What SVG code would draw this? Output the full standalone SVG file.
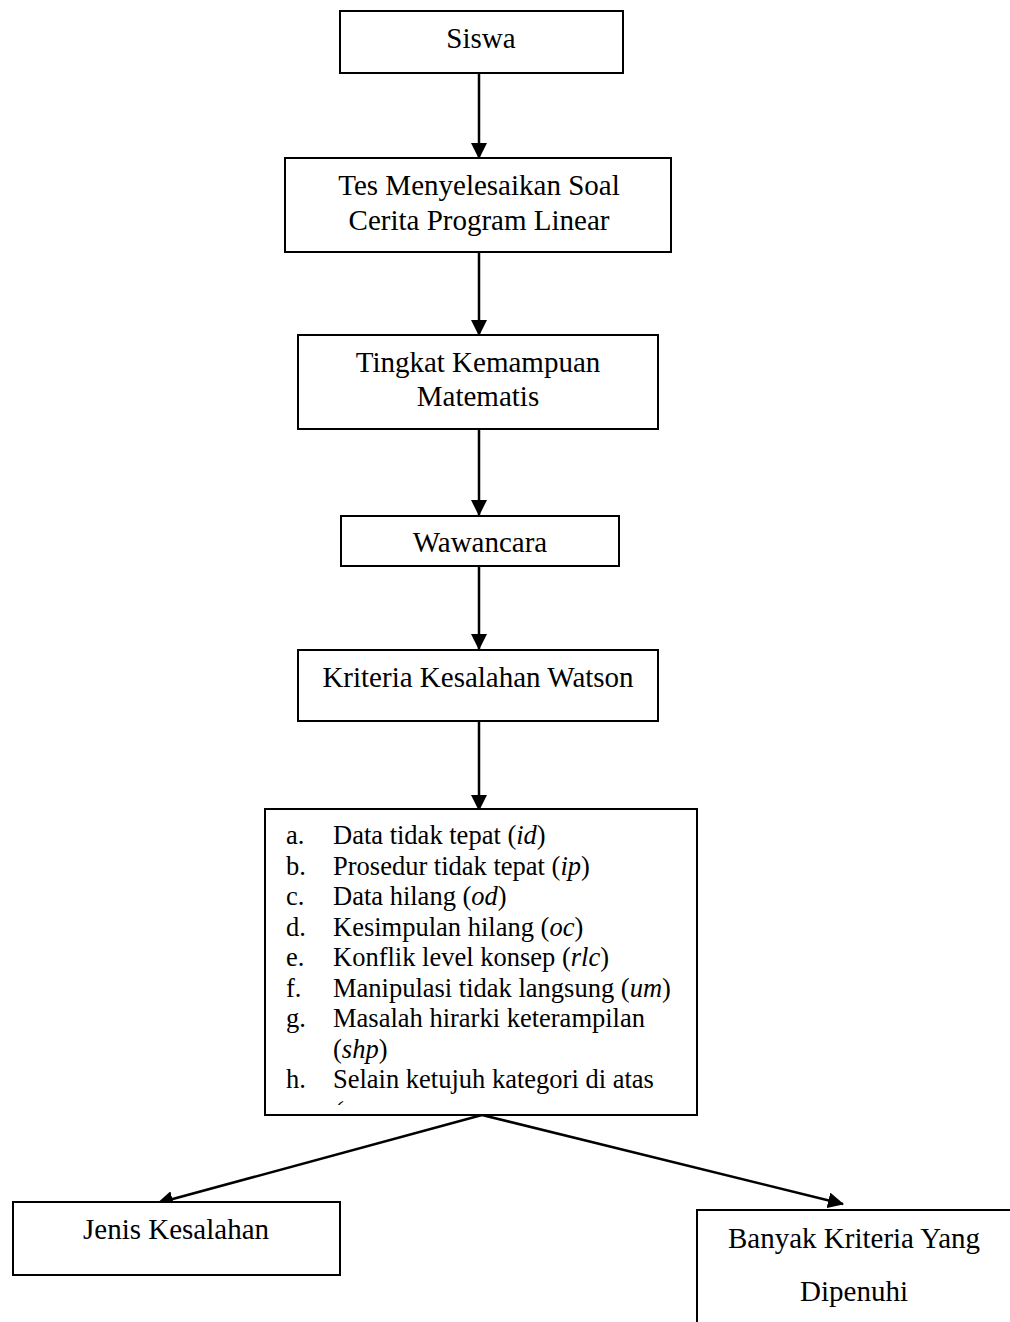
<svg xmlns="http://www.w3.org/2000/svg" width="1010" height="1322" viewBox="0 0 1010 1322">
<style>
.box{fill:#fff;stroke:#000;stroke-width:2}
.t{font-family:"Liberation Serif","Times New Roman",serif;font-size:29px;fill:#000;text-anchor:middle}
.li{font-family:"Liberation Serif","Times New Roman",serif;font-size:26.5px;fill:#000}
.conn{stroke:#000;stroke-width:2.5;fill:none}
</style>
<defs>
<marker id="arr" markerUnits="userSpaceOnUse" markerWidth="16" markerHeight="16" viewBox="0 0 16 16" refX="15" refY="8" orient="auto">
<path d="M0,0 L16,8 L0,16 Z" fill="#000"/>
</marker>
<clipPath id="clipList"><rect x="266" y="811" width="429" height="294"/></clipPath>
<clipPath id="clipTick"><rect x="266" y="1095" width="120" height="10"/></clipPath>
</defs>
<rect width="1010" height="1322" fill="#fff"/>
<g id="connectors">
<line class="conn" x1="479" y1="73" x2="479" y2="158" marker-end="url(#arr)"/>
<line class="conn" x1="479" y1="252" x2="479" y2="335" marker-end="url(#arr)"/>
<line class="conn" x1="479" y1="429" x2="479" y2="515" marker-end="url(#arr)"/>
<line class="conn" x1="479" y1="566" x2="479" y2="649" marker-end="url(#arr)"/>
<line class="conn" x1="479" y1="721" x2="479" y2="810" marker-end="url(#arr)"/>
<line class="conn" x1="482" y1="1115" x2="158" y2="1203" marker-end="url(#arr)"/>
<line class="conn" x1="482" y1="1115" x2="843" y2="1204" marker-end="url(#arr)"/>
</g>
<g id="siswa">
<rect class="box" x="340" y="11" width="283" height="62"/>
<text class="t" x="481" y="48">Siswa</text>
</g>
<g id="tes">
<rect class="box" x="285" y="158" width="386" height="94"/>
<text class="t" x="479" y="195">Tes Menyelesaikan Soal</text>
<text class="t" x="479" y="230">Cerita Program Linear</text>
</g>
<g id="tingkat">
<rect class="box" x="298" y="335" width="360" height="94"/>
<text class="t" x="478" y="372">Tingkat Kemampuan</text>
<text class="t" x="478" y="406">Matematis</text>
</g>
<g id="wawancara">
<rect class="box" x="341" y="516" width="278" height="50"/>
<text class="t" x="480" y="552">Wawancara</text>
</g>
<g id="kriteria">
<rect class="box" x="298" y="650" width="360" height="71"/>
<text class="t" x="478" y="687">Kriteria Kesalahan Watson</text>
</g>
<g id="daftar">
<rect class="box" x="265" y="809" width="432" height="306"/>
<g clip-path="url(#clipList)">
<text class="li" x="286" y="844">a.</text><text class="li" x="333" y="844">Data tidak tepat (<tspan font-style="italic">id</tspan>)</text>
<text class="li" x="286" y="874.5">b.</text><text class="li" x="333" y="874.5">Prosedur tidak tepat (<tspan font-style="italic">ip</tspan>)</text>
<text class="li" x="286" y="905">c.</text><text class="li" x="333" y="905">Data hilang (<tspan font-style="italic">od</tspan>)</text>
<text class="li" x="286" y="935.5">d.</text><text class="li" x="333" y="935.5">Kesimpulan hilang (<tspan font-style="italic">oc</tspan>)</text>
<text class="li" x="286" y="966">e.</text><text class="li" x="333" y="966">Konflik level konsep (<tspan font-style="italic">rlc</tspan>)</text>
<text class="li" x="286" y="996.5">f.</text><text class="li" x="333" y="996.5">Manipulasi tidak langsung (<tspan font-style="italic">um</tspan>)</text>
<text class="li" x="286" y="1027">g.</text><text class="li" x="333" y="1027">Masalah hirarki keterampilan</text>
<text class="li" x="333" y="1057.5">(<tspan font-style="italic">shp</tspan>)</text>
<text class="li" x="286" y="1088">h.</text><text class="li" x="333" y="1088">Selain ketujuh kategori di atas</text>
</g>
<g clip-path="url(#clipTick)">
<text class="li" x="333" y="1120" font-style="italic">(</text>
</g>
</g>
<g id="jenis">
<rect class="box" x="13" y="1202" width="327" height="73"/>
<text class="t" x="176" y="1239">Jenis Kesalahan</text>
</g>
<g id="banyak">
<rect class="box" x="697" y="1210" width="400" height="200"/>
<text class="t" x="854" y="1248">Banyak Kriteria Yang</text>
<text class="t" x="854" y="1301">Dipenuhi</text>
</g>
</svg>
